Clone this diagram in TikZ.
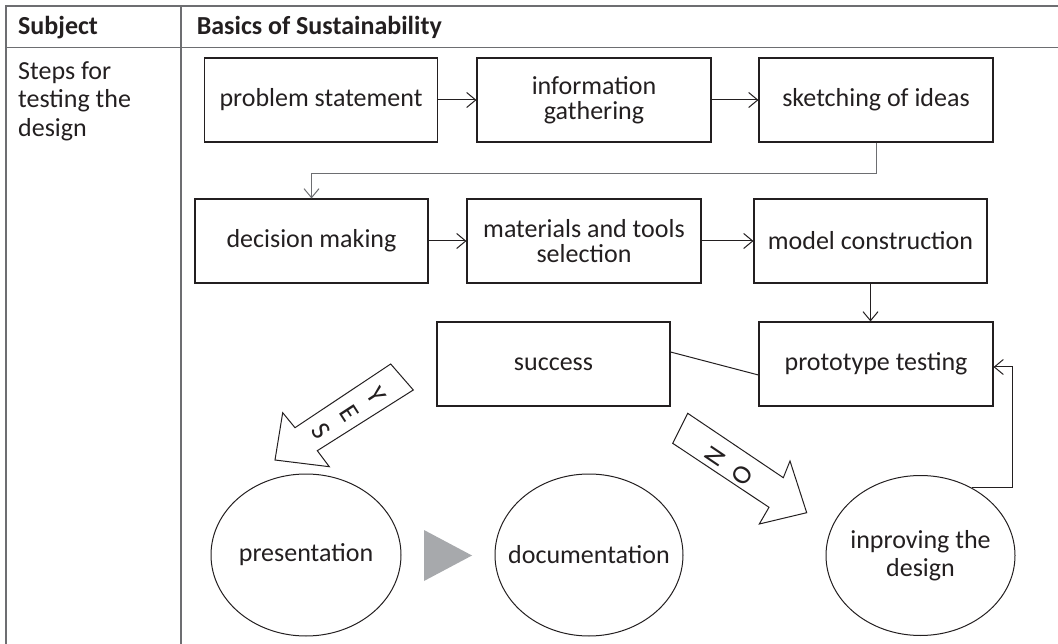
\documentclass[tikz,border=0pt]{standalone}
\usepackage{fontspec}
\setmainfont{Carlito}
\usetikzlibrary{arrows.meta,shapes.geometric,calc}
\definecolor{ink}{HTML}{231F20}
\definecolor{rulegray}{HTML}{6D6E71}
\definecolor{trigray}{HTML}{A7A9AC}
\begin{document}
\begin{tikzpicture}[x=1pt,y=-1pt,
  box/.style={draw=ink, line width=1.1pt, minimum width=233pt, minimum height=84pt, inner sep=0pt, text=ink, align=center, font=\fontsize{26}{24.5}\selectfont},
  oval/.style={draw=ink, line width=1pt, ellipse, inner sep=0pt},
  ovaltext/.style={text=ink, align=center, inner sep=0pt, font=\fontsize{26}{28.5}\selectfont},
  arr/.style={draw=ink, line width=1pt, -{Straight Barb[length=9pt,width=15pt]}},
  tbl/.style={draw=rulegray, line width=1.6pt},
  blockarrow/.style={draw=ink, fill=white, line width=1pt, line join=miter},
  letters/.style={text=ink, inner sep=0pt, align=center, font=\fontsize{27}{33}\selectfont},
  celltext/.style={text=ink, inner sep=0pt, font=\fontsize{26}{28.5}\selectfont}
]
\useasboundingbox (0,0) rectangle (1058,644);
% table
\draw[tbl] (1062,6) -- (6,6) -- (6,648);
\draw[tbl] (6,47.5) -- (1062,47.5);
\draw[tbl] (181,6) -- (181,648);
\node[celltext, anchor=base west, font=\bfseries\fontsize{26}{28.5}\selectfont] (subj) at (18,35) {Subject};
\node[celltext, anchor=base west, font=\bfseries\fontsize{26}{28.5}\selectfont] (basics) at (196.6,35) {Basics of Sustainability};
\node[celltext, anchor=north west, align=left] (steps) at (18,61) {Steps for\\testing the\\design};
% boxes
\node[box] (b1) at (321,100) {problem statement};
\node[box, minimum width=234pt] (b2) at (594,100) {information\\gathering};
\node[box, minimum width=234pt] (b3) at (876,100) {sketching of ideas};
\node[box] (b4) at (311.5,241) {decision making};
\node[box, minimum width=234pt] (b5) at (584,241) {materials and tools\\selection};
\node[box] (b6) at (870.5,241) {model construction};
\node[box] (b7) at (553.5,364) {success};
\node[box, minimum width=234pt] (b8) at (876,364) {prototype testing};
% ellipses
\node[oval, minimum width=190pt, minimum height=162pt, label={[ovaltext]center:presentation}] (e1) at (306,555) {};
\node[oval, minimum width=188pt, minimum height=162pt, label={[ovaltext]center:documentation}] (e2) at (589,555) {};
\node[oval, minimum width=189pt, minimum height=160pt, label={[ovaltext]center:{inproving the\\design}}] (e3) at (920.5,555.5) {};
% connectors
\draw[arr] (b1.east) -- (b2.west);
\draw[arr] (b2.east) -- (b3.west);
\draw[arr, draw=rulegray] (b3.south) -- ++(0,31) -| (b4.north);
\draw[arr] (b4.east) -- (b5.west);
\draw[arr] (b5.east) -- (b6.west);
\draw[arr] (b6.south) -- (b6.south |- b8.north);
\draw[draw=ink, line width=1pt] ($(b7.east)+(0,-12)$) -- ($(b8.west)+(0,11)$);
\draw[arr] (e3.53) -| ($(b8.east)+(19,3)$) -- ($(b8.east)+(0,3)$);
% gray triangle
\fill[trigray] (424,530) -- (424,581) -- (472,555.5) -- cycle;
% block arrows
\draw[blockarrow] (390.7,364) -- (413.3,390) -- (317.3,450.7) -- (329.3,466.7) -- (275,460) -- (282.7,412.7) -- (295,427.7) -- cycle;
\draw[blockarrow] (687.7,413.3) -- (783.3,477.7) -- (790,461) -- (806.7,512.7) -- (759.3,524) -- (769,507.3) -- (672.7,443.3) -- cycle;
\node[letters, rotate=-57] (yes) at (349,413) {Y\\E\\S};
\node[letters, rotate=56] (no) at (729,466) {N\\O};
\end{tikzpicture}
\end{document}
